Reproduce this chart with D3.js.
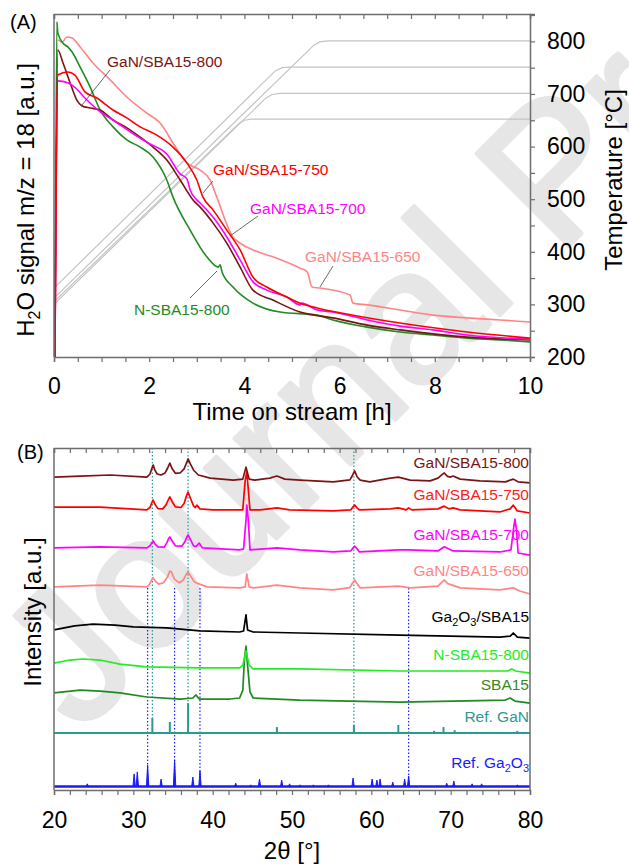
<!DOCTYPE html>
<html>
<head>
<meta charset="utf-8">
<script src="https://cdn.jsdelivr.net/npm/d3@7"></script>
<style>
  body { margin: 0; background: #fff; }
  text { font-family: Arial, "Liberation Sans", sans-serif; }
</style>
</head>
<body>
<svg id="chart" width="629" height="867"></svg>
<script>
// ---------- panel A data: H2O signal (a.u.) vs time on stream [h] ----------
const h2oN800 = [[0.02,0],[0.06,97.7],[0.08,94.5],[0.19,91.5],[0.29,90.4],[0.38,88.9],[0.55,84.5],[0.76,78.7],[0.97,72.0],[1.24,67.1],[1.53,63.3],[1.81,61.2],[2.08,58.3],[2.37,51.6],[2.5,46.6],[2.86,37.0],[3.21,29.2],[3.45,26.2],[3.49,26.9],[3.53,24.8],[3.76,20.4],[4.18,15.7],[4.75,13.1],[5.53,12.2],[5.86,10.8],[6.58,8.7],[7.27,7.3],[7.96,6.4],[8.68,5.5],[9.37,5.0],[10,4.4]];
const h2o800 = [[0.02,0],[0.08,89.5],[0.19,85.7],[0.34,79.9],[0.48,74.9],[0.59,73.2],[0.76,72.6],[0.97,72.0],[1.24,69.1],[1.53,66.8],[1.81,64.1],[2.08,61.2],[2.37,57.4],[2.65,51.6],[2.92,45.8],[3.07,43.7],[3.34,39.1],[3.63,33.2],[3.91,26.2],[4.18,19.5],[4.6,16.6],[5.17,13.1],[5.86,11.4],[6.58,9.3],[7.27,7.9],[8.68,5.8],[10,5.0]];
const h2o750 = [[0.02,0],[0.08,82.2],[0.29,83.1],[0.44,82.2],[0.65,77.3],[0.9,75.5],[1.24,72.0],[1.53,69.7],[1.81,67.1],[2.16,64.7],[2.5,61.2],[2.79,56.6],[3.0,51.6],[3.13,46.6],[3.34,42.9],[3.63,37.0],[3.91,31.2],[4.18,23.3],[4.47,20.4],[4.89,17.5],[5.17,15.7],[5.53,14.3],[6.2,12.4],[7.27,9.9],[8.68,7.3],[10,5.5]];
const h2o700 = [[0.02,0],[0.08,80.5],[0.3,79.9],[0.45,78.5],[0.65,75.5],[0.97,71.5],[1.24,69.1],[1.67,65.0],[2.02,62.1],[2.37,59.2],[2.65,53.4],[2.79,52.0],[2.86,48.7],[3.0,45.8],[3.07,44.9],[3.34,40.8],[3.63,35.0],[3.91,28.3],[4.18,21.9],[4.47,19.5],[4.89,17.5],[5.17,15.2],[5.2,15.7],[5.53,13.7],[5.86,13.1],[6.58,10.8],[7.27,9.0],[7.96,7.9],[8.68,6.4],[10,5.2]];
const h2o650 = [[0.02,0],[0.08,92.4],[0.17,91.8],[0.27,93.3],[0.38,93.0],[0.55,90.4],[0.82,85.7],[1.18,80.8],[1.53,75.8],[1.95,71.1],[2.23,68.2],[2.5,62.4],[2.79,56.6],[3.07,54.5],[3.28,51.6],[3.42,46.6],[3.76,35.0],[3.91,33.2],[4.18,31.2],[4.6,29.2],[5.17,25.9],[5.32,24.8],[5.42,20.4],[5.59,20.1],[6.22,18.1],[6.28,15.7],[6.58,15.2],[7.27,13.7],[7.96,12.2],[8.68,11.4],[9.37,10.8],[10,10.2]];
// temperature programmes [h, °C]
const temp650 = [[0,305],[3.9,645],[4.0,650],[4.15,652],[10,652]];
const temp700 = [[0,300],[4.45,692],[4.58,699],[4.75,701],[10,701]];
const temp750 = [[0,331],[4.65,744],[4.8,750],[4.95,751],[10,751]];
const temp800 = [[0,312],[5.45,792],[5.58,799],[5.75,801],[10,801]];
const timeTicks = [0, 2, 4, 6, 8, 10];
const tempTicks = [200, 300, 400, 500, 600, 700, 800];

// ---------- panel B data: XRD intensity (a.u.) vs 2theta [°] ----------
const xrd800 = [[20,91.5],[23.3,91.8],[27.1,92.1],[31.7,91.5],[32.1,92.4],[32.3,93.8],[32.5,95.0],[32.7,93.6],[33.0,92.4],[33.5,92.1],[34.0,92.7],[34.3,94.0],[34.6,95.6],[34.9,93.9],[35.3,92.6],[35.9,92.7],[36.4,93.9],[36.7,95.6],[36.9,96.8],[37.2,95.3],[37.6,93.5],[38.2,92.1],[39.7,91.2],[42.6,90.6],[43.8,90.9],[44.2,94.4],[44.6,90.9],[45.3,90.6],[47.2,91.2],[48.1,91.8],[49.1,90.9],[51.0,90.6],[55.2,90.1],[57.3,90.7],[57.6,91.9],[57.9,93.3],[58.2,91.6],[58.6,90.6],[59.8,90.1],[62.4,91.2],[63.4,91.5],[64.9,90.6],[67.4,90.4],[68.4,91.2],[68.9,92.2],[69.2,92.7],[69.6,91.7],[70.0,91.5],[70.3,91.8],[71.2,90.9],[73.7,90.4],[76.9,90.1],[77.9,90.9],[78.5,90.1],[80,89.8]];
const xrd750 = [[20,82.7],[25.8,82.7],[31.7,81.9],[32.1,82.6],[32.3,83.8],[32.5,84.8],[32.7,83.6],[33.1,82.3],[33.7,82.2],[34.1,83.3],[34.4,84.8],[34.6,85.7],[34.9,84.3],[35.3,82.8],[36.0,82.6],[36.4,83.8],[36.7,86.0],[36.9,87.1],[37.2,85.3],[37.6,83.0],[37.8,82.6],[38.0,83.3],[38.4,82.2],[40.0,81.9],[43.8,81.9],[44.1,90.6],[44.3,93.0],[44.5,87.7],[44.7,81.9],[46.0,81.9],[48.1,82.5],[49.7,81.9],[55.2,81.6],[57.4,81.9],[57.7,82.8],[57.9,83.3],[58.2,82.5],[58.5,81.9],[62.4,82.2],[63.4,82.5],[64.4,81.9],[64.7,82.5],[65.1,81.9],[68.4,82.2],[69.2,83.0],[69.8,82.2],[70.3,82.5],[71.2,81.9],[76.2,81.3],[77.5,82.2],[77.9,83.3],[78.4,81.6],[80,81.0]];
const xrd700 = [[20,70.8],[25.8,71.1],[31.7,70.8],[32.1,71.4],[32.3,72.2],[32.5,72.8],[32.7,72.0],[33.1,71.1],[33.9,71.0],[34.2,72.2],[34.45,73.5],[34.6,74.0],[34.9,72.8],[35.3,71.4],[36.1,71.3],[36.5,72.6],[36.75,74.0],[36.9,74.6],[37.2,73.2],[37.6,71.4],[37.9,71.2],[38.3,72.2],[38.7,70.8],[43.4,70.2],[43.9,70.5],[44.2,78.9],[44.3,83.3],[44.5,78.9],[44.7,70.2],[48.1,70.8],[51.0,70.2],[55.2,69.6],[57.4,69.9],[57.7,70.8],[57.9,71.3],[58.2,70.5],[58.5,69.6],[63.4,70.2],[64.7,70.2],[68.4,69.9],[69.2,71.1],[70.3,69.9],[76.2,69.6],[77.6,70.2],[77.9,76.0],[78.1,79.2],[78.3,76.0],[78.5,69.3],[80,68.7]];
const xrd650 = [[20,59.4],[25.8,59.9],[31.7,59.4],[32.0,60.0],[32.3,61.4],[32.5,62.0],[32.8,61.0],[33.2,60.2],[33.8,60.6],[34.3,62.3],[34.6,64.0],[34.8,63.8],[35.2,61.6],[35.8,60.6],[36.3,61.4],[36.7,63.2],[36.9,63.7],[37.2,62.6],[37.7,60.8],[38.0,60.5],[39.3,59.4],[43.4,59.1],[44.1,59.4],[44.3,63.2],[44.6,59.4],[45.1,59.1],[48.1,59.9],[51.0,59.1],[55.2,58.5],[57.3,59.2],[57.6,60.4],[57.9,61.4],[58.2,60.3],[58.6,59.1],[63.4,59.6],[64.9,59.1],[68.4,59.6],[68.9,60.8],[69.2,61.4],[69.6,60.4],[70.2,59.9],[71.2,59.1],[76.2,58.5],[77.9,59.1],[78.7,58.2],[80,57.3]];
const xrdGa2O3 = [[20,46.8],[22.6,48.0],[24.9,48.5],[27.7,48.2],[30.0,47.7],[34.2,47.4],[38.4,46.5],[43.4,46.2],[43.9,46.5],[44.2,51.2],[44.4,46.8],[45.1,46.2],[51.0,45.9],[63.6,45.3],[76.2,44.7],[77.5,45.0],[77.9,45.9],[78.4,44.7],[80,44.4]];
const xrdN800 = [[20,37.1],[22.0,38.0],[23.7,38.3],[25.8,38.0],[28.3,36.8],[31.7,36.0],[38.4,35.7],[43.4,35.7],[43.8,36.5],[44.2,40.6],[44.6,36.5],[45.1,35.4],[51.0,35.4],[63.6,34.8],[77.2,34.8],[77.7,35.4],[78.2,34.8],[80,34.2]];
const xrdSBA15 = [[20,28.4],[23.3,29.2],[25.8,28.9],[28.3,28.4],[31.7,27.2],[35.9,26.6],[37.5,26.9],[37.9,27.8],[38.3,26.6],[42.2,26.6],[43.4,26.9],[43.8,29.2],[44.0,38.0],[44.2,42.1],[44.4,36.5],[44.7,28.7],[45.1,26.9],[51.0,26.3],[63.6,25.7],[76.9,26.3],[77.5,26.9],[78.1,26.0],[80,25.4]];
// reference sticks [2theta, top]
const refGaNBase = 16.7;
const refGaN = [[32.4,21.1],[34.6,19.9],[36.9,25.4],[48.1,18.4],[57.8,19.0],[63.4,19.0],[67.9,17.3],[69.1,18.4],[70.5,17.5],[78.4,17.3]];
const refGa2O3Base = 1.0;
const refGa2O3 = [[24.2,1.8],[30.1,4.7],[30.5,5.3],[31.8,7.3],[33.5,3.2],[35.2,8.8],[37.5,3.8],[38.4,5.6],[42.9,2.0],[44.8,1.5],[45.9,3.2],[48.7,2.9],[49.7,1.8],[51.0,1.5],[52.7,1.5],[54.6,1.5],[57.7,3.5],[60.1,3.2],[60.7,2.9],[61.1,3.2],[62.7,2.3],[64.2,3.2],[64.7,4.1],[69.5,2.0],[70.4,2.6],[72.7,1.8],[73.9,1.8],[78.4,1.5]];
const ganGuides = [32.4, 36.9, 57.8];
const ga2o3Guides = [31.8, 35.2, 38.4, 64.7];
const thetaTicks = [20, 30, 40, 50, 60, 70, 80];

const svg = d3.select("#chart");
const axisColor = "#6e6e6e";

// watermark behind everything
svg.append("text")
  .attr("transform", "translate(80,735) rotate(-45)")
  .attr("font-size", 190)
  .attr("fill", "#e6e6e6")
  .attr("stroke", "#e6e6e6")
  .attr("stroke-width", 4)
  .attr("stroke-linejoin", "round")
  .text("Journal Pre-proof");

// ================= Panel A =================
const A = { l: 54, r: 530, t: 14, b: 357 };
const xA = d3.scaleLinear().domain([0, 10]).range([A.l, A.r]);
const yA = d3.scaleLinear().domain([0, 100]).range([A.b, A.t]);
const yT = d3.scaleLinear().domain([200, 852]).range([A.b, A.t]);

const tempLine = d3.line().x(d => xA(d[0])).y(d => yT(d[1]));
[temp650, temp700, temp750, temp800].forEach(s => {
  svg.append("path").attr("d", tempLine(s))
    .attr("fill", "none").attr("stroke", "#c4c4c4").attr("stroke-width", 1.2)
    .attr("stroke-linejoin", "round");
});

const sigLine = d3.line().x(d => xA(d[0])).y(d => yA(d[1])).curve(d3.curveMonotoneX);
const seriesA = [
  { data: h2o650, color: "#ff8585" },
  { data: h2oN800, color: "#1f8c1f" },
  { data: h2o800, color: "#7a1414" },
  { data: h2o700, color: "#ff00ff" },
  { data: h2o750, color: "#ff0000" }
];
seriesA.forEach(s => {
  svg.append("path").attr("d", sigLine(s.data))
    .attr("fill", "none").attr("stroke", s.color).attr("stroke-width", 1.6);
});

// axes A
const gA = svg.append("g");
const botA = d3.axisBottom(xA).tickValues(d3.range(0, 10.01, 0.5))
  .tickSize(5).tickPadding(16).tickFormat(d => timeTicks.includes(d) ? d : "");
gA.append("g").attr("transform", `translate(0,${A.b})`).call(botA);
const topA = d3.axisBottom(xA).tickValues(d3.range(0, 10.01, 0.5)).tickSize(5).tickFormat("");
gA.append("g").attr("transform", `translate(0,${A.t})`).call(topA);
const rightA = d3.axisRight(yT).tickValues(d3.range(200, 851, 50))
  .tickSize(5).tickPadding(12).tickFormat(d => tempTicks.includes(d) ? d : "");
gA.append("g").attr("transform", `translate(${A.r},0)`).call(rightA);
gA.append("line").attr("x1", A.l).attr("x2", A.l).attr("y1", A.t).attr("y2", A.b);
gA.selectAll("path.domain").attr("stroke", axisColor).attr("stroke-width", 1.5);
gA.selectAll(".tick line").attr("stroke", axisColor).attr("stroke-width", 1.2);
gA.selectAll("line").filter(function () { return !this.parentNode.classList.contains("tick"); })
  .attr("stroke", axisColor).attr("stroke-width", 1.5);
gA.selectAll(".tick text").attr("font-size", 23).attr("fill", "#000")
  .attr("font-family", "Arial, 'Liberation Sans', sans-serif");

// labels A
const labA = [
  { t: "GaN/SBA15-800", c: "#7a1414", x: 107, y: 67, l: [110, 70, 82, 105] },
  { t: "GaN/SBA15-750", c: "#ff0000", x: 213, y: 175, l: [213, 181, 203, 193] },
  { t: "GaN/SBA15-700", c: "#ff00ff", x: 250, y: 214, l: [258, 216, 230, 236] },
  { t: "GaN/SBA15-650", c: "#ff8585", x: 305, y: 262, l: [333, 266, 320, 287] },
  { t: "N-SBA15-800", c: "#1f8c1f", x: 134, y: 315, l: [190, 298, 217, 271] }
];
labA.forEach(d => {
  svg.append("line").attr("x1", d.l[0]).attr("y1", d.l[1]).attr("x2", d.l[2]).attr("y2", d.l[3])
    .attr("stroke", "#444").attr("stroke-width", 0.8);
  svg.append("text").attr("x", d.x).attr("y", d.y).attr("font-size", 15.5)
    .attr("fill", d.c).text(d.t);
});

svg.append("text").attr("x", 10).attr("y", 29).attr("font-size", 20).text("(A)");
svg.append("text").attr("x", 292).attr("y", 420).attr("font-size", 24)
  .attr("text-anchor", "middle").text("Time on stream [h]");
const yTitleA = svg.append("text").attr("transform", "translate(34,200) rotate(-90)")
  .attr("font-size", 24).attr("text-anchor", "middle");
yTitleA.append("tspan").text("H");
yTitleA.append("tspan").attr("font-size", 16).attr("dy", 6).text("2");
yTitleA.append("tspan").attr("dy", -6).text("O signal m/z = 18 [a.u.]");
svg.append("text").attr("transform", "translate(622,180) rotate(-90)")
  .attr("font-size", 24).attr("text-anchor", "middle").text("Temperature [°C]");

// ================= Panel B =================
const B = { l: 54, r: 530, t: 448, b: 790 };
const xB = d3.scaleLinear().domain([20, 80]).range([B.l, B.r]);
const yB = d3.scaleLinear().domain([0, 100]).range([B.b, B.t]);

// guide lines
ganGuides.forEach(v => {
  svg.append("line").attr("x1", xB(v)).attr("x2", xB(v)).attr("y1", yB(100)).attr("y2", yB(refGaNBase))
    .attr("stroke", "#229a94").attr("stroke-width", 1.2).attr("stroke-dasharray", "1.5,2");
});
ga2o3Guides.forEach(v => {
  svg.append("line").attr("x1", xB(v)).attr("x2", xB(v)).attr("y1", yB(59.1)).attr("y2", yB(refGa2O3Base))
    .attr("stroke", "#2020ff").attr("stroke-width", 1.2).attr("stroke-dasharray", "1.5,2");
});

// reference GaN
svg.append("line").attr("x1", xB(20)).attr("x2", xB(80)).attr("y1", yB(refGaNBase)).attr("y2", yB(refGaNBase))
  .attr("stroke", "#2a9a94").attr("stroke-width", 2);
svg.selectAll("line.gan").data(refGaN).enter().append("line").attr("class", "gan")
  .attr("x1", d => xB(d[0])).attr("x2", d => xB(d[0]))
  .attr("y1", yB(refGaNBase)).attr("y2", d => yB(d[1]))
  .attr("stroke", "#2a9a94").attr("stroke-width", 2);

// reference Ga2O3
svg.append("line").attr("x1", xB(20)).attr("x2", xB(80)).attr("y1", yB(refGa2O3Base)).attr("y2", yB(refGa2O3Base))
  .attr("stroke", "#1a1aff").attr("stroke-width", 2.5);
svg.selectAll("path.ga2o3").data(refGa2O3).enter().append("path").attr("class", "ga2o3")
  .attr("d", d => `M${xB(d[0] - 0.15)},${yB(refGa2O3Base)}L${xB(d[0])},${yB(d[1])}L${xB(d[0] + 0.15)},${yB(refGa2O3Base)}Z`)
  .attr("fill", "#1a1aff").attr("stroke", "#1a1aff").attr("stroke-width", 1);

const xrdLine = d3.line().x(d => xB(d[0])).y(d => yB(d[1]));
const seriesB = [
  { data: xrdSBA15, color: "#1f8a1f" },
  { data: xrdN800, color: "#22ee22" },
  { data: xrdGa2O3, color: "#000000" },
  { data: xrd650, color: "#ff8585" },
  { data: xrd700, color: "#ff00ff" },
  { data: xrd750, color: "#ff0000" },
  { data: xrd800, color: "#7a1414" }
];
seriesB.forEach(s => {
  svg.append("path").attr("d", xrdLine(s.data))
    .attr("fill", "none").attr("stroke", s.color).attr("stroke-width", 1.7)
    .attr("stroke-linejoin", "round");
});

// axes B
const gB = svg.append("g");
const botB = d3.axisBottom(xB).tickValues(d3.range(20, 80.1, 2))
  .tickSize(5).tickPadding(17).tickFormat(d => thetaTicks.includes(d) ? d : "");
gB.append("g").attr("transform", `translate(0,${B.b})`).call(botB);
const topB = d3.axisBottom(xB).tickValues(d3.range(20, 80.1, 2)).tickSize(5).tickFormat("");
gB.append("g").attr("transform", `translate(0,${B.t})`).call(topB);
gB.append("line").attr("x1", B.l).attr("x2", B.l).attr("y1", B.t).attr("y2", B.b);
gB.append("line").attr("x1", B.r).attr("x2", B.r).attr("y1", B.t).attr("y2", B.b);
gB.selectAll("path.domain").attr("stroke", axisColor).attr("stroke-width", 1.5);
gB.selectAll(".tick line").attr("stroke", axisColor).attr("stroke-width", 1.2);
gB.selectAll("line").filter(function () { return !this.parentNode.classList.contains("tick"); })
  .attr("stroke", axisColor).attr("stroke-width", 1.5);
gB.selectAll(".tick text").attr("font-size", 23).attr("fill", "#000")
  .attr("font-family", "Arial, 'Liberation Sans', sans-serif");

// labels B
const labB = [
  { t: "GaN/SBA15-800", c: "#7a1414", y: 468 },
  { t: "GaN/SBA15-750", c: "#ff2020", y: 500 },
  { t: "GaN/SBA15-700", c: "#ff00ff", y: 540 },
  { t: "GaN/SBA15-650", c: "#ff8585", y: 576 },
  { t: ["Ga", "2", "O", "3", "/SBA15"], c: "#000000", y: 622 },
  { t: "N-SBA15-800", c: "#22ee22", y: 660 },
  { t: "SBA15", c: "#3a8a1a", y: 690 },
  { t: "Ref. GaN", c: "#2a9a94", y: 722 },
  { t: ["Ref. Ga", "2", "O", "3"], c: "#1a1aff", y: 768 }
];
labB.forEach(d => {
  const tx = svg.append("text").attr("x", 529).attr("y", d.y).attr("font-size", 15.5)
    .attr("text-anchor", "end").attr("fill", d.c);
  if (typeof d.t === "string") { tx.text(d.t); return; }
  d.t.forEach((part, i) => {
    const sub = /^\d$/.test(part);
    tx.append("tspan").attr("font-size", sub ? 11 : 15.5)
      .attr("dy", sub ? 4 : (i > 0 ? -4 : 0)).text(part);
  });
});

svg.append("text").attr("x", 17).attr("y", 459).attr("font-size", 20).text("(B)");
svg.append("text").attr("transform", "translate(41,612) rotate(-90)")
  .attr("font-size", 24).attr("text-anchor", "middle").text("Intensity [a.u.]");
svg.append("text").attr("x", 292).attr("y", 859).attr("font-size", 24)
  .attr("text-anchor", "middle").text("2θ [°]");
</script>
</body>
</html>
